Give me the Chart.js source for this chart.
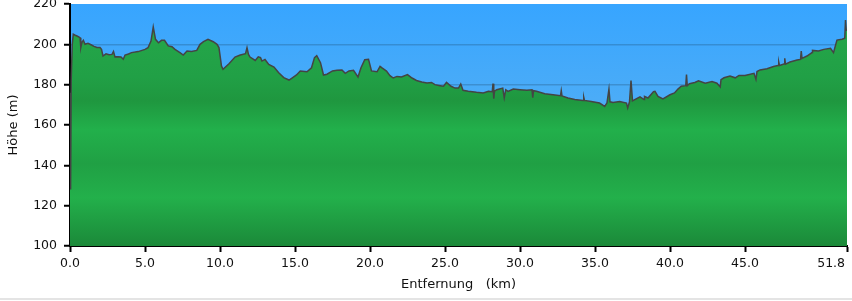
<!DOCTYPE html>
<html>
<head>
<meta charset="utf-8">
<script src="https://cdn.jsdelivr.net/npm/chart.js@4/dist/chart.umd.min.js"></script>
<style>
html,body{margin:0;padding:0;background:#fff;}
#wrap{position:relative;width:852px;height:301px;}
</style>
</head>
<body>
<div id="wrap"><canvas id="c"></canvas></div>
<script>
// Distance (km) along the route
const distanceKm = [0.0,0.04,0.08,0.15,0.22,0.35,0.5,0.67,0.72,0.8,0.89,1.0,1.2,1.4,1.6,1.8,2.0,2.1,2.2,2.4,2.6,2.8,2.9,3.0,3.2,3.4,3.55,3.67,3.9,4.1,4.55,5.0,5.2,5.4,5.55,5.7,5.9,6.1,6.3,6.55,6.8,7.0,7.33,7.55,7.8,8.1,8.45,8.67,8.9,9.2,9.55,9.8,9.93,10.1,10.2,10.6,11.0,11.35,11.7,11.8,11.9,12.0,12.35,12.55,12.7,12.8,13.0,13.25,13.6,13.9,14.25,14.6,14.8,15.1,15.35,15.8,16.1,16.3,16.45,16.7,16.9,17.13,17.5,17.8,18.13,18.35,18.6,18.9,19.2,19.4,19.65,19.9,20.1,20.47,20.67,20.8,21.1,21.33,21.55,21.8,22.1,22.5,22.8,23.1,23.45,23.8,24.1,24.33,24.67,24.9,25.1,25.4,25.67,25.9,26.05,26.2,26.55,27.1,27.55,27.9,28.15,28.2,28.25,28.3,28.45,28.85,28.95,29.05,29.2,29.55,30.0,30.45,30.8,30.85,30.9,31.1,31.65,32.2,32.7,32.75,32.8,33.2,33.65,34.2,34.25,34.3,34.75,35.3,35.65,35.8,35.93,36.0,36.2,36.65,37.1,37.18,37.3,37.4,37.5,37.65,38.0,38.27,38.3,38.53,38.9,39.0,39.2,39.53,40.0,40.3,40.53,40.75,41.05,41.1,41.15,41.3,41.65,41.9,42.35,42.8,43.13,43.35,43.4,43.6,44.0,44.35,44.6,45.0,45.6,45.73,45.8,46.0,46.47,46.9,47.2,47.25,47.3,47.6,47.65,47.7,48.0,48.47,48.7,48.75,48.8,49.13,49.47,49.5,49.9,50.25,50.7,50.9,51.13,51.47,51.65,51.7,51.75,51.8];
// Elevation (m)
const elevationM = [176,128,182,200,205,204.5,204,203.3,198.4,201,202,200,200.5,199.8,199,198.4,198.4,197.5,194.2,195.3,194.8,195,196.4,193.8,193.9,193.7,192.6,194.7,195.2,195.9,196.4,197.5,198.3,201.6,208.6,202.5,200.8,202,202,199.2,198.8,197.5,195.9,194.7,196.7,196.4,197,200,201.3,202.5,201.3,200,198.4,189.2,187.6,190.4,193.7,194.7,195.4,198.3,195,193.7,192,193.8,193.4,191.7,192.5,190,188.7,186,183.5,182.3,183.3,184.8,186.8,186.4,188.4,193.4,194.4,190.9,184.8,185.2,186.8,187.1,187.3,185.6,186.8,187.1,183.8,188.4,192.4,192.6,186.8,186.4,189.1,188.3,186.7,184.5,183.3,184.1,183.8,185,183.3,182.1,181.3,180.8,181.1,180,179.5,179.2,181.1,179.2,178.3,178.3,180.3,177.2,176.7,176.2,175.9,176.7,176.5,180.5,173,176.8,177.5,178.3,173.5,177.5,176.7,177.8,177.5,177.2,177.5,173.5,177,176.7,175.5,175,174.5,177,174.4,173.4,172.6,172.2,173.8,172.2,171.7,170.9,169.2,171,177.8,171.5,171.2,171.7,170.9,168.5,171.5,182.1,172,172.6,174,172.6,174.2,173.4,176.5,176.7,174.2,172.9,175,175.9,177.8,179.2,179.5,185,179.5,180.5,181.1,181.9,180.7,181.5,180.7,178.9,182.5,183.4,184.3,183.4,184.6,184.6,185.6,182.6,186.5,187.3,187.9,189,189.5,191.2,189.5,190.2,193.1,190.2,191.2,192.2,192.5,196.7,193,194.2,195.9,197,196.7,197.5,198,195.9,202.1,202.5,203,212,207,207];
// Axis ticks
const xTickValues = [0,5,10,15,20,25,30,35,40,45,51.8];
const yTickValues = [100,120,140,160,180,200,220];
const xTitle = 'Entfernung   (km)';
const yTitle = 'Höhe (m)';

const points = distanceKm.map((d,i)=>({x:d,y:elevationM[i]}));

const bgPlugin = {
  id:'bg',
  beforeDraw(chart){
    const {ctx, chartArea:a} = chart;
    if(!a) return;
    const g = ctx.createLinearGradient(0,a.top,0,a.bottom);
    g.addColorStop(0,'#37a5ff');
    g.addColorStop(0.45,'#4eadf6');
    g.addColorStop(1,'#6cbbe9');
    ctx.save();
    ctx.fillStyle = g;
    ctx.fillRect(a.left,a.top,a.right-a.left,a.bottom-a.top);
    ctx.restore();
  },
  afterDraw(chart){
    const ctx = chart.ctx;
    ctx.save();
    ctx.fillStyle = '#e4e4e4';
    ctx.fillRect(0,298,852,2);
    ctx.restore();
  }
};

function greenFill(context){
  const chart = context.chart;
  const a = chart.chartArea;
  if(!a) return '#22a247';
  const g = chart.ctx.createLinearGradient(0,a.top,0,a.bottom);
  g.addColorStop(0,'#26aa4b');
  g.addColorStop(0.30,'#21a046');
  g.addColorStop(0.40,'#1f973f');
  g.addColorStop(0.52,'#22b04b');
  g.addColorStop(0.66,'#20a044');
  g.addColorStop(0.80,'#23b04b');
  g.addColorStop(1,'#1b8939');
  return g;
}

const tickFont = {family:'"DejaVu Sans", Verdana, sans-serif', size:12.5};
const titleFont = {family:'"DejaVu Sans", Verdana, sans-serif', size:13};

new Chart(document.getElementById('c'),{
  type:'line',
  data:{datasets:[{
    data:points,
    borderColor:'#444444',
    borderWidth:1.5,
    pointRadius:0,
    tension:0,
    fill:'start',
    backgroundColor:greenFill
  }]},
  options:{
    responsive:true,
    maintainAspectRatio:false,
    animation:false,
    layout:{padding:{top:4,right:5,left:0,bottom:0}},
    plugins:{legend:{display:false},tooltip:{enabled:false}},
    scales:{
      x:{
        type:'linear',
        min:0,max:51.8,
        afterFit(s){s.height=55; s.paddingLeft=0; s.paddingRight=0;},
        afterBuildTicks(s){s.ticks = xTickValues.map(v=>({value:v}));},
        ticks:{color:'#111',font:tickFont,padding:4,maxRotation:0,autoSkip:false,
          callback:(v,i,arr)=> i===arr.length-1 ? Number(v).toFixed(1)+'        ' : Number(v).toFixed(1)},
        grid:{drawOnChartArea:false,drawTicks:true,tickLength:6,tickColor:'#000',tickWidth:2},
        border:{display:true,color:'#000',width:2},
        title:{display:true,text:xTitle,color:'#111',font:titleFont,padding:{top:0,bottom:9}}
      },
      y:{
        type:'linear',
        min:100,max:220,
        z:1,
        afterFit(s){s.width=70; s.paddingTop=0; s.paddingBottom=0;},
        afterBuildTicks(s){s.ticks = yTickValues.map(v=>({value:v}));},
        ticks:{color:'#111',font:tickFont,padding:7,callback:(v)=>String(v)},
        grid:{
          drawOnChartArea:true,drawTicks:true,tickLength:6,tickWidth:2,
          tickColor:'#000',
          color:(c)=> (c.tick && (c.tick.value===220||c.tick.value===100)) ? 'rgba(0,0,0,0)' : 'rgba(0,0,0,0.16)',
          lineWidth:1.5
        },
        border:{display:true,color:'#000',width:2},
        title:{display:true,text:yTitle,color:'#111',font:titleFont,padding:{top:6,bottom:0}}
      }
    }
  },
  plugins:[bgPlugin]
});
</script>
</body>
</html>
